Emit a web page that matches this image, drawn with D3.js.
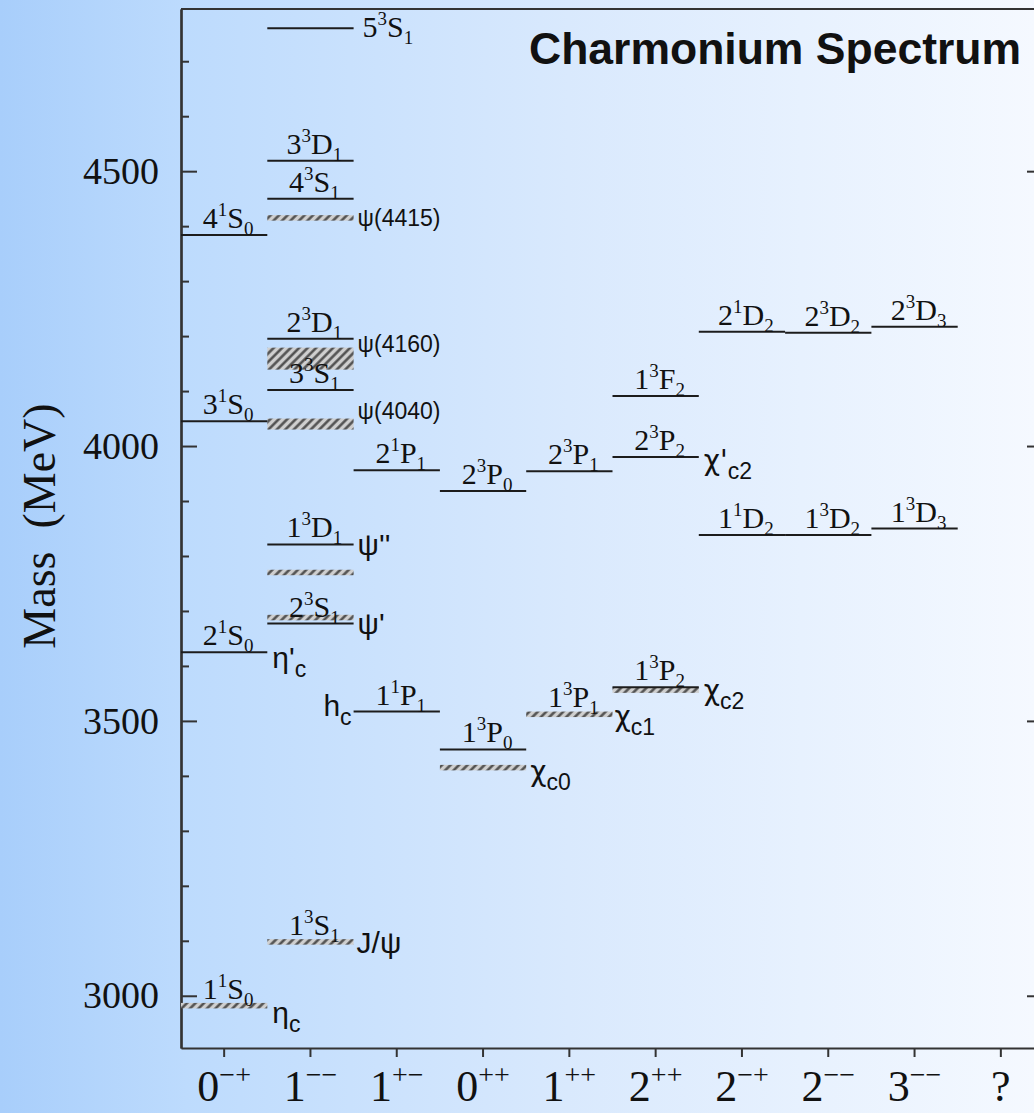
<!DOCTYPE html>
<html>
<head>
<meta charset="utf-8">
<script src="https://cdn.jsdelivr.net/npm/d3@7"></script>
<style>
  body { margin: 0; overflow: hidden; }
</style>
</head>
<body>
<script>
'use strict';

// J^PC columns (base digit + superscript P,C)
const jpcBase = ["0", "1", "1", "0", "1", "2", "2", "2", "3", "?"];
const jpcSup  = ["\u2212+", "\u2212\u2212", "+\u2212", "++", "++", "++", "\u2212+", "\u2212\u2212", "\u2212\u2212", ""];

// mass axis ticks (MeV)
const massTicks  = [3000, 3500, 4000, 4500];
const minorTicks = [3100, 3200, 3300, 3400, 3600, 3700, 3800, 3900, 4100, 4200, 4300, 4400, 4600, 4700];

// predicted states n^(2S+1)L_J, predicted mass (null = no line drawn), exp band index (-1 = none)
const stateCol  = [0, 0, 0, 0,  1, 1, 1, 1, 1, 1, 1, 1,  2, 2,  3, 3,  4, 4,  5, 5, 5,  6, 6,  7, 7,  8, 8];
const stateN    = [1, 2, 3, 4,  1, 2, 1, 3, 2, 4, 3, 5,  1, 2,  1, 2,  1, 2,  1, 2, 1,  1, 2,  1, 2,  1, 2];
const stateMult = [1, 1, 1, 1,  3, 3, 3, 3, 3, 3, 3, 3,  1, 1,  3, 3,  3, 3,  3, 3, 3,  1, 1,  3, 3,  3, 3];
const stateL    = ["S", "S", "S", "S",  "S", "S", "D", "S", "D", "S", "D", "S",  "P", "P",  "P", "P",  "P", "P",  "P", "P", "F",  "D", "D",  "D", "D",  "D", "D"];
const stateJ    = [0, 0, 0, 0,  1, 1, 1, 1, 1, 1, 1, 1,  1, 1,  0, 0,  1, 1,  2, 2, 2,  2, 2,  2, 2,  3, 3];
const statePred = [null, 3625, 4045, 4384,  null, 3677, 3821, 4102, 4195, 4450, 4519, 4760,
                   3517, 3956,  3448, 3918,  null, 3954,  3561, 3980, 4091,  3838, 4208,  3838, 4206,  3850, 4217];
const stateExp  = [0, -1, -1, -1,  1, -1, -1, -1, -1, -1, -1, -1,  -1, -1,  -1, -1,  5, -1,  -1, -1, -1,  -1, -1,  -1, -1,  -1, -1];

// observed states (hatched bands): column, mass, band width (MeV)
const expName  = ["etac", "jpsi", "psi2S", "psi3770", "chic0", "chic1", "chic2", "psi4040", "psi4160", "psi4415"];
const expCol   = [0, 1, 1, 1, 3, 4, 5, 1, 1, 1];
const expMass  = [2982, 3098, 3688, 3770, 3415, 3512, 3556, 4040, 4159, 4415];
const expWidth = [10, 10, 10, 10, 10, 10, 10, 20, 40, 10];

// particle names: base text, subscript, column, mass of the level it marks
const nameBase = ["\u03b7", "\u03b7'", "J/\u03c8", "\u03c8'", "\u03c8''", "h", "\u03c7", "\u03c7", "\u03c7", "\u03c7'", "\u03c8(4040)", "\u03c8(4160)", "\u03c8(4415)"];
const nameSub  = ["c", "c", "", "", "", "c", "c0", "c1", "c2", "c2", "", "", ""];
const nameCol  = [0, 0, 1, 1, 1, 2, 3, 4, 5, 5, 1, 1, 1];
const nameMass = [2982, 3625, 3098, 3677, 3821, 3517, 3415, 3512, 3556, 3980, 4040, 4159, 4415];

const width = 1034, height = 1113;
const serif = "'Liberation Serif', 'Times New Roman', serif";
const sans = "'Liberation Sans', Arial, sans-serif";

const svg = d3.select('body').append('svg')
  .attr('width', width)
  .attr('height', height);

const defs = svg.append('defs');

// background gradient
const grad = defs.append('linearGradient')
  .attr('id', 'bg')
  .attr('x1', '0%').attr('x2', '100%')
  .attr('y1', '0%').attr('y2', '0%');
[[0, '#a8cefb'], [0.18, '#bddbfd'], [0.55, '#d9e9fd'], [1, '#f5f9ff']]
  .forEach(s => grad.append('stop').attr('offset', s[0]).attr('stop-color', s[1]));

svg.append('rect')
  .attr('width', width)
  .attr('height', height)
  .attr('fill', 'url(#bg)');

// diagonal hatch for measured states
const hatch = defs.append('pattern')
  .attr('id', 'hatch')
  .attr('patternUnits', 'userSpaceOnUse')
  .attr('width', 6).attr('height', 6)
  .attr('patternTransform', 'rotate(45)');
hatch.append('rect').attr('width', 6).attr('height', 6).attr('fill', '#cfcfcf');
hatch.append('line')
  .attr('x1', 1.5).attr('x2', 1.5).attr('y1', 0).attr('y2', 6)
  .attr('stroke', '#4a4a4a').attr('stroke-width', 2.4);

// scales
const x = d3.scaleBand()
  .domain(d3.range(jpcBase.length))
  .range([181, 1044]);
const y = d3.scaleLinear()
  .domain([2905, 4795])
  .range([1048, 9]);

const bw = x.bandwidth();

// frame: top line
svg.append('line')
  .attr('x1', 181).attr('x2', 1044)
  .attr('y1', y.range()[1]).attr('y2', y.range()[1])
  .attr('stroke', '#333').attr('stroke-width', 2.2);

function styleAxis(g) {
  g.select('.domain').attr('stroke', '#333').attr('stroke-width', 2.2);
  g.selectAll('.tick line').attr('stroke', '#333').attr('stroke-width', 2);
  g.selectAll('.tick text')
    .attr('fill', '#111')
    .style('font-family', serif)
    .style('font-size', '38px');
}

// left axis, minor ticks
svg.append('g')
  .attr('transform', 'translate(181,0)')
  .call(d3.axisLeft(y).tickValues(minorTicks).tickSize(-8).tickSizeOuter(0).tickFormat(''))
  .call(styleAxis);

// left axis, labelled ticks
svg.append('g')
  .attr('transform', 'translate(181,0)')
  .call(d3.axisLeft(y).tickValues(massTicks).tickSize(-16).tickSizeOuter(0)
    .tickPadding(22).tickFormat(d3.format('d')))
  .call(styleAxis);

// right axis
svg.append('g')
  .attr('transform', 'translate(1043,0)')
  .call(d3.axisRight(y).tickValues(massTicks).tickSize(-16).tickSizeOuter(0).tickFormat(''))
  .call(styleAxis);

// bottom axis
svg.append('g')
  .attr('transform', 'translate(0,' + y.range()[0] + ')')
  .call(d3.axisBottom(x).tickSize(9).tickSizeOuter(0).tickFormat(''))
  .call(styleAxis);

// J^PC labels
const jpcText = svg.append('g').selectAll('text')
  .data(d3.range(jpcBase.length))
  .join('text')
  .attr('x', i => x(i) + bw / 2)
  .attr('y', 1101)
  .attr('text-anchor', 'middle')
  .style('font-family', serif)
  .attr('fill', '#111');
jpcText.append('tspan').style('font-size', '44px').text(i => jpcBase[i]);
jpcText.append('tspan').style('font-size', '28px').attr('dy', -17).text(i => jpcSup[i]);

// axis title
svg.append('text')
  .attr('transform', 'translate(55,526)rotate(-90)')
  .attr('text-anchor', 'middle')
  .style('font-family', serif)
  .style('font-size', '46px')
  .attr('fill', '#111')
  .attr('xml:space', 'preserve')
  .text('Mass  (MeV)');

// chart title
svg.append('text')
  .attr('x', 529)
  .attr('y', 64)
  .style('font-family', sans)
  .style('font-weight', 'bold')
  .style('font-size', '44.5px')
  .attr('fill', '#111')
  .text('Charmonium Spectrum');

// measured states as hatched bands
const exp = expName.map((n, i) => ({ name: n, col: expCol[i], mass: expMass[i], w: expWidth[i] }));
svg.append('g').selectAll('rect')
  .data(exp)
  .join('rect')
  .attr('x', d => x(d.col))
  .attr('width', bw)
  .attr('y', d => y(d.mass + d.w / 2))
  .attr('height', d => y(d.mass - d.w / 2) - y(d.mass + d.w / 2))
  .attr('fill', 'url(#hatch)');

// predicted states as lines
const states = stateCol.map((c, i) => ({
  col: c, n: stateN[i], mult: stateMult[i], L: stateL[i], J: stateJ[i],
  pred: statePred[i],
  mass: statePred[i] != null ? statePred[i] : expMass[stateExp[i]]
}));

svg.append('g').selectAll('line')
  .data(states.filter(d => d.pred != null))
  .join('line')
  .attr('x1', d => x(d.col))
  .attr('x2', d => x(d.col) + bw)
  .attr('y1', d => y(d.pred))
  .attr('y2', d => y(d.pred))
  .attr('stroke', '#1c1c1c')
  .attr('stroke-width', 2);

// spectroscopic labels above each level (5^3S_1 sits to the right of its line)
const stateLabel = svg.append('g').selectAll('text')
  .data(states)
  .join('text')
  .attr('x', d => d.n === 5 ? x(d.col) + bw + 9 : x(d.col) + bw / 2 + 4)
  .attr('y', d => d.n === 5 ? y(d.mass) + 9 : y(d.mass) - 7)
  .attr('text-anchor', d => d.n === 5 ? 'start' : 'middle')
  .style('font-family', serif)
  .attr('fill', '#111');
stateLabel.append('tspan').style('font-size', '30px').text(d => d.n);
stateLabel.append('tspan').style('font-size', '19px').attr('dy', -12).text(d => d.mult);
stateLabel.append('tspan').style('font-size', '30px').attr('dy', 12).text(d => d.L);
stateLabel.append('tspan').style('font-size', '19px').attr('dy', 7).text(d => d.J);

// particle names next to the levels: [dx from band edge, baseline offset, anchor]
const namePlace = [
  [5, 17, 'start'], [5, 16, 'start'], [3, 11, 'start'], [4, 10, 'start'], [4, 11, 'start'],
  [-2, 4, 'end'], [4, 13, 'start'], [2, 12, 'start'], [5, 10, 'start'], [5, 13, 'start'],
  [4, -5, 'start'], [4, -7, 'start'], [4, 8, 'start']
];
const names = nameBase.map((b, i) => ({ base: b, sub: nameSub[i], col: nameCol[i], mass: nameMass[i], p: namePlace[i] }));

const nameText = svg.append('g').selectAll('text')
  .data(names)
  .join('text')
  .attr('x', d => d.p[2] === 'end' ? x(d.col) + d.p[0] : x(d.col) + bw + d.p[0])
  .attr('y', d => y(d.mass) + d.p[1])
  .attr('text-anchor', d => d.p[2])
  .style('font-family', sans)
  .attr('fill', '#111');
nameText.append('tspan')
  .style('font-family', d => d.base.startsWith('\u03c7') ? "'DejaVu Sans', sans-serif" : null)
  .style('font-size', d => d.base.length > 4 ? '23px' : (d.base.startsWith('\u03c7') ? '28px' : '30px'))
  .text(d => d.base);
nameText.filter(d => d.sub !== '').append('tspan')
  .style('font-size', '23px')
  .attr('dy', 9)
  .text(d => d.sub);

</script>
</body>
</html>
